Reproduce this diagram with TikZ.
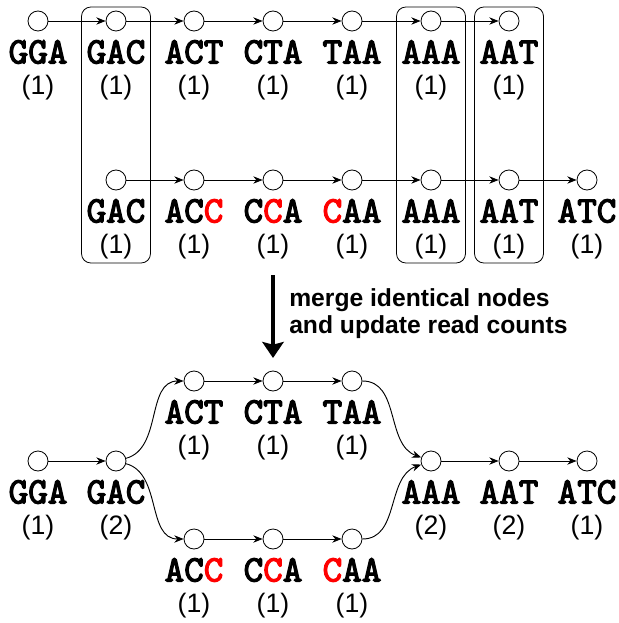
\documentclass[tikz,border=0pt]{standalone}
\usepackage{fontspec}
\setmainfont{Liberation Sans}
\newfontfamily\seqfont{lmmono10-regular}[Extension = .otf, AutoFakeBold = 3.2]
\usetikzlibrary{arrows.meta,calc,positioning}
\newcommand{\kmer}[4]{\node [kmer] (#1) at (#2) {};
  \node [seq] (#1s) at ($(#1)+(0,31)$) {#3};
  \node [cnt] (#1c) at ($(#1)+(0,67)$) {#4};}
\newcommand{\mm}[1]{\textcolor{red}{#1}}

\begin{document}
\begin{tikzpicture}[x = 0.75pt, y = -0.75pt,
    kmer/.style = {circle, draw, line width = 0.6pt, minimum size = 15pt,
      inner sep = 0pt},
    seq/.style = {font = \seqfont\bfseries\fontsize{28}{28}\selectfont,
      inner sep = 0pt},
    cnt/.style = {font = \fontsize{20}{20}\selectfont, inner sep = 0pt},
    edge/.style = {-{Stealth[length = 7pt, width = 5.5pt]}, line width = 0.7pt},
    grp/.style = {draw, rounded corners = 7pt, line width = 0.6pt},
    merge/.style = {-{Stealth[length = 12pt, width = 16pt, inset = 2pt]},
      line width = 3pt},
    note/.style = {font = \bfseries\fontsize{18.5}{20.25}\selectfont,
      align = left, inner sep = 0pt},
  ]
    \useasboundingbox (0,0) rectangle (618,623);

    \kmer{u1}{38,21}{GGA}{(1)}
    \kmer{u2}{116,21}{GAC}{(1)}
    \kmer{u3}{194,21}{ACT}{(1)}
    \kmer{u4}{273,21}{CTA}{(1)}
    \kmer{u5}{352,21}{TAA}{(1)}
    \kmer{u6}{431,21}{AAA}{(1)}
    \kmer{u7}{509,21}{AAT}{(1)}

    \kmer{l1}{116,180}{GAC}{(1)}
    \kmer{l2}{194,180}{AC\mm{C}}{(1)}
    \kmer{l3}{273,180}{C\mm{C}A}{(1)}
    \kmer{l4}{352,180}{\mm{C}AA}{(1)}
    \kmer{l5}{431,180}{AAA}{(1)}
    \kmer{l6}{509,180}{AAT}{(1)}
    \kmer{l7}{587,180}{ATC}{(1)}

    \foreach \a/\b in {u1/u2, u2/u3, u3/u4, u4/u5, u5/u6, u6/u7,
        l1/l2, l2/l3, l3/l4, l4/l5, l5/l6, l6/l7}
      \draw [edge] (\a) -- (\b);

    \foreach \a/\b in {u2/l1, u6/l5, u7/l6}
      \draw [grp] ($(\a)+(-34.5,-14)$) rectangle ($(\b c)+(34.5,16)$);

    \coordinate (mtop) at (273,275);
    \coordinate (mbot) at (273,358);
    \coordinate (mmid) at ($(mtop)!0.46!(mbot)$);
    \draw [merge] (mtop) -- (mbot);
    \node [note, right = 12pt of mmid] (msg)
      {merge identical nodes\\and update read counts};

    \kmer{gga}{38,461}{GGA}{(1)}
    \kmer{gac}{116,461}{GAC}{(2)}
    \kmer{act}{194,381}{ACT}{(1)}
    \kmer{cta}{273,381}{CTA}{(1)}
    \kmer{taa}{352,381}{TAA}{(1)}
    \kmer{acc}{194,539}{AC\mm{C}}{(1)}
    \kmer{cca}{273,539}{C\mm{C}A}{(1)}
    \kmer{caa}{352,539}{\mm{C}AA}{(1)}
    \kmer{aaa}{431,461}{AAA}{(2)}
    \kmer{aat}{509,461}{AAT}{(2)}
    \kmer{atc}{587,461}{ATC}{(1)}

    \foreach \a/\b in {gga/gac, act/cta, cta/taa, acc/cca, cca/caa,
        aaa/aat, aat/atc}
      \draw [edge] (\a) -- (\b);
    \draw [edge] (gac) to [out = 15, in = 180] (act);
    \draw [edge] (gac) to [out = -15, in = 180] (acc);
    \draw [edge] (taa) to [out = 0, in = 160] (aaa);
    \draw [edge] (caa) to [out = 0, in = 200] (aaa);
  \end{tikzpicture}
\end{document}
